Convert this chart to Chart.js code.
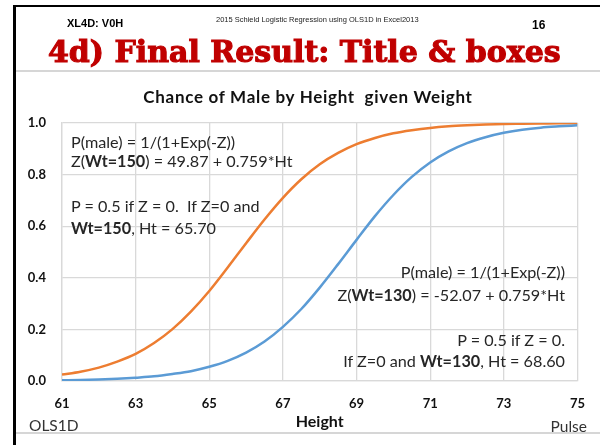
<!DOCTYPE html>
<html>
<head>
<meta charset="utf-8">
<script src="https://cdn.jsdelivr.net/npm/chart.js@4"></script>
<style>
  html, body { margin: 0; padding: 0; background: #fff; }
  #page { position: relative; width: 600px; height: 445px; overflow: hidden; background: #fff; }
  #page canvas { position: absolute; left: 0; top: 0; }
  .t { position: absolute; white-space: nowrap; line-height: 20px; color: #262626; font-family: Lato, "Open Sans", sans-serif; font-size: 16.2px; }
  .t b { font-weight: 700; }
  .line { position: absolute; }
</style>
</head>
<body>
<div id="page">
  <canvas id="chart" width="600" height="445"></canvas>

  <!-- slide frame -->
  <div class="line" style="left:13px; top:5px; width:587px; height:2px; background:#000"></div>
  <div class="line" style="left:13px; top:5px; width:3px; height:440px; background:#000"></div>
  <div class="line" style="left:16px; top:70px; width:584px; height:2px; background:#d6d6d6"></div>
  <div class="line" style="left:16px; top:432px; width:584px; height:2px; background:#d6d6d6"></div>

  <!-- slide header -->
  <div class="t" style="left:67px; top:13px; font-family:'Liberation Sans',Arial,sans-serif; font-size:11px; font-weight:700; color:#000">XL4D: V0H</div>
  <div class="t" style="left:216px; top:10px; font-family:'Liberation Sans',Arial,sans-serif; font-size:7.5px; color:#222">2015 Schield Logistic Regression using OLS1D in Excel2013</div>
  <div class="t" style="left:532px; top:15px; font-family:'Liberation Sans',Arial,sans-serif; font-size:12px; font-weight:700; color:#000">16</div>
  <div class="t" style="left:48px; top:33px; line-height:38px; font-family:'DejaVu Serif',serif; font-size:30px; font-weight:700; color:#c00000; -webkit-text-stroke:1.1px #c00000">4d) Final Result: Title &amp; boxes</div>

  <!-- chart title -->
  <div class="t" style="left:308px; top:87px; transform:translateX(-50%); font-size:17px; letter-spacing:0.7px; font-weight:700; color:#111">Chance of Male by Height&nbsp; given Weight</div>

  <!-- text boxes -->
  <div class="t" style="left:71px; top:132px">P(male) = 1/(1+Exp(-Z))</div>
  <div class="t" style="left:71px; top:151px">Z(<b>Wt=150</b>) = 49.87 + 0.759*Ht</div>
  <div class="t" style="left:71px; top:196px">P = 0.5 if Z = 0.&nbsp; If Z=0 and</div>
  <div class="t" style="left:71px; top:218px"><b>Wt=150</b>, Ht = 65.70</div>

  <div class="t" style="right:35px; top:262px">P(male) = 1/(1+Exp(-Z))</div>
  <div class="t" style="right:35px; top:285px">Z(<b>Wt=130</b>) = -52.07 + 0.759*Ht</div>
  <div class="t" style="right:35px; top:330px">P = 0.5 if Z = 0.</div>
  <div class="t" style="right:35px; top:351px">If Z=0 and <b>Wt=130</b>, Ht = 68.60</div>

  <!-- footer -->
  <div class="t" style="left:29px; top:415px; font-size:15.5px; color:#333">OLS1D</div>
  <div class="t" style="right:13px; top:416px; font-size:15.5px; color:#333">Pulse</div>
</div>

<script>
// height in inches
const heights = [61, 61.5, 62, 62.5, 63, 63.5, 64, 64.5, 65, 65.5, 66, 66.5, 67, 67.5,
  68, 68.5, 69, 69.5, 70, 70.5, 71, 71.5, 72, 72.5, 73, 73.5, 74, 74.5, 75];

// P(male) for weight 150
const pMaleWt150 = [0.025, 0.036, 0.052, 0.075, 0.105, 0.147, 0.201, 0.269, 0.349, 0.440,
  0.534, 0.626, 0.710, 0.782, 0.840, 0.884, 0.918, 0.942, 0.960, 0.972, 0.981, 0.987,
  0.991, 0.994, 0.996, 0.997, 0.998, 0.999, 0.999];

// P(male) for weight 130
const pMaleWt130 = [0.003, 0.004, 0.006, 0.009, 0.013, 0.018, 0.027, 0.038, 0.055, 0.078,
  0.110, 0.153, 0.210, 0.279, 0.362, 0.453, 0.547, 0.639, 0.721, 0.791, 0.847, 0.890,
  0.922, 0.945, 0.962, 0.974, 0.982, 0.987, 0.991];

const xTicks = [61, 63, 65, 67, 69, 71, 73, 75];
const yTicks = [0, 0.2, 0.4, 0.6, 0.8, 1.0];

const toPoints = ys => heights.map((h, i) => ({ x: h, y: ys[i] }));

const gridColor = "#d9d9d9";
const tickFont = { family: "Lato, sans-serif", size: 13, weight: "bold" };

new Chart(document.getElementById("chart"), {
  type: "line",
  data: {
    datasets: [
      {
        label: "Wt=130",
        data: toPoints(pMaleWt130),
        borderColor: "#5b9bd5",
        borderWidth: 2.5,
        pointRadius: 0,
        cubicInterpolationMode: "monotone",
      },
      {
        label: "Wt=150",
        data: toPoints(pMaleWt150),
        borderColor: "#ed7d31",
        borderWidth: 2.5,
        pointRadius: 0,
        cubicInterpolationMode: "monotone",
      },
    ],
  },
  options: {
    responsive: false,
    animation: false,
    layout: { padding: { left: 0, top: 123, right: 22, bottom: 14 } },
    plugins: {
      legend: { display: false },
      tooltip: { enabled: false },
    },
    scales: {
      x: {
        type: "linear",
        min: xTicks[0],
        max: xTicks[xTicks.length - 1],
        afterBuildTicks: s => { s.ticks = xTicks.map(v => ({ value: v })); },
        afterFit: s => { s.height = 50; },
        grid: { color: gridColor, lineWidth: 1.3, drawTicks: false },
        border: { color: gridColor, width: 1.3 },
        ticks: { color: "#111", font: tickFont, padding: 15 },
        title: {
          display: true,
          text: "Height",
          color: "#111",
          font: { family: "Lato, sans-serif", size: 16, weight: "bold" },
          padding: 0,
        },
      },
      y: {
        min: 0,
        max: 1,
        afterBuildTicks: s => { s.ticks = yTicks.map(v => ({ value: v })); },
        afterFit: s => { s.width = 62; },
        grid: { color: gridColor, lineWidth: 1.3, drawTicks: false },
        border: { color: gridColor, width: 1.3 },
        ticks: { color: "#111", font: tickFont, padding: 16, callback: v => v.toFixed(1) },
      },
    },
  },
});
</script>
</body>
</html>
